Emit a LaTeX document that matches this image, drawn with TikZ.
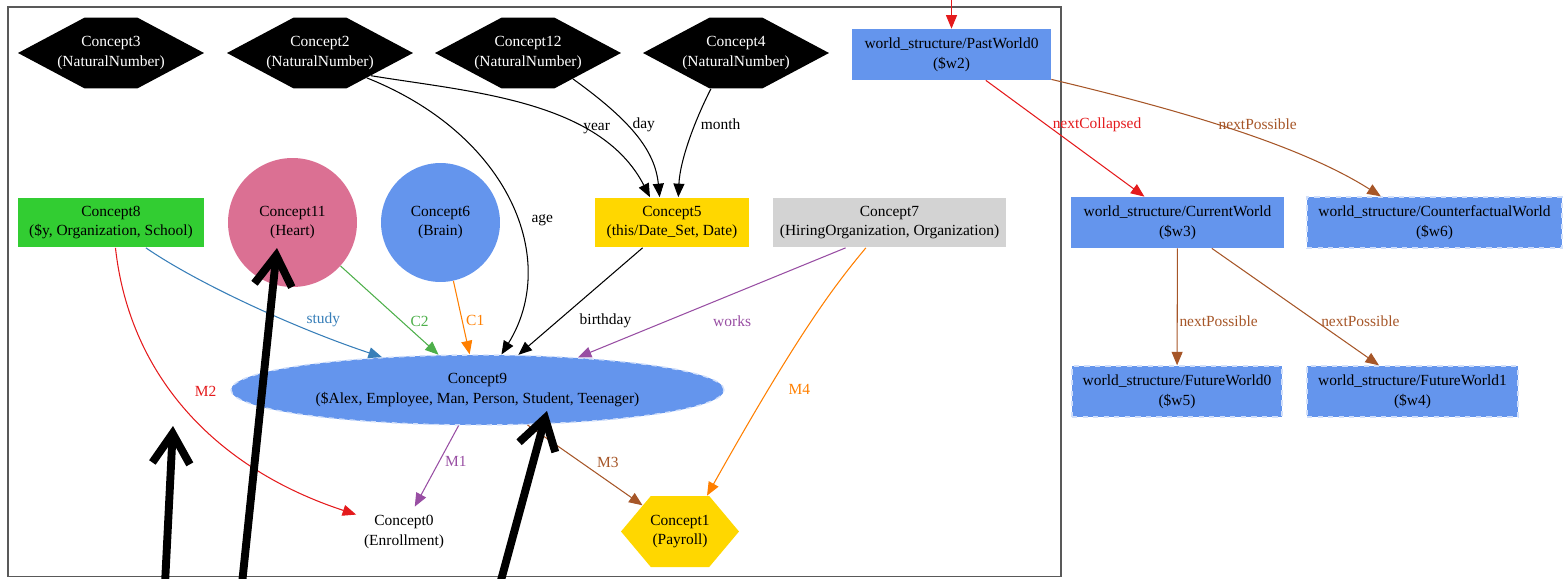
\documentclass[tikz,border=0pt]{standalone}
\usepackage{fontspec}
\setmainfont{Liberation Serif}
\usetikzlibrary{shapes.geometric, shapes.symbols, arrows.meta, positioning}

\definecolor{cornflower}{HTML}{6495ED}
\definecolor{violetred}{HTML}{DB7093}
\definecolor{limegreen}{HTML}{32CD32}
\definecolor{golden}{HTML}{FFD700}
\definecolor{lightgrey}{HTML}{D3D3D3}
\definecolor{setred}{HTML}{E41A1C}
\definecolor{setblue}{HTML}{377EB8}
\definecolor{setgreen}{HTML}{4DAF4A}
\definecolor{setpurple}{HTML}{984EA3}
\definecolor{setorange}{HTML}{FF7F00}
\definecolor{setbrown}{HTML}{A65628}

% hexagon text may run over the slanted sides
\newcommand{\hexlabel}[2]{\makebox[0pt]{#1}\\\makebox[0pt]{#2}}

\begin{document}
\begin{tikzpicture}[
    x=0.02cm, y=-0.02cm,
    every node/.style={font=\fontsize{8.8}{11.3}\selectfont, align=center, inner sep=0pt},
    hexa/.style={signal, signal to=west and east, fill=black, text=white, minimum width=3.72cm, minimum height=1.42cm, signal pointer angle=56},
    box/.style={rectangle, minimum height=1cm},
    world/.style={box, fill=cornflower, minimum height=1.02cm},
    maybe/.style={draw=white!70!cornflower, dashed, line width=0.8pt},
    lbl/.style={inner sep=1pt},
    arrow/.style={-{Triangle[length=2.7mm, width=2.2mm]}, line width=0.6pt},
    pointer/.style={-{Straight Barb[length=6mm, width=7.5mm]}, line width=4.5pt, line cap=round, line join=round}
]
\useasboundingbox (0,0) rectangle (1564,578);

% FRAME
\draw[black!65, line width=0.8pt] (8,7) rectangle (1061,576.5);

% NODES
\node[hexa] (concept3) at (111,53) {\hexlabel{Concept3}{(NaturalNumber)}};
\node[hexa] (concept2) at (320,53) {\hexlabel{Concept2}{(NaturalNumber)}};
\node[hexa] (concept12) at (528,53) {\hexlabel{Concept12}{(NaturalNumber)}};
\node[hexa] (concept4) at (736,53) {\hexlabel{Concept4}{(NaturalNumber)}};
\node[world, minimum width=3.98cm] (past0) at (951.5,54.5) {world\_structure/PastWorld0\\(\$w2)};

\node[box, fill=limegreen, minimum width=3.72cm] (concept8) at (111,222.5) {Concept8\\(\$y, Organization, School)};
\node[circle, fill=violetred, minimum size=2.58cm] (concept11) at (292.5,222.5) {Concept11\\(Heart)};
\node[circle, fill=cornflower, minimum size=2.38cm] (concept6) at (440.5,222.5) {Concept6\\(Brain)};
\node[box, fill=golden, minimum width=3.08cm] (concept5) at (672,222.5) {Concept5\\(this/Date\_Set, Date)};
\node[box, fill=lightgrey, minimum width=4.66cm] (concept7) at (889.5,222.5) {Concept7\\(HiringOrganization, Organization)};
\node[world, minimum width=4.26cm] (current) at (1177.5,222.5) {world\_structure/CurrentWorld\\(\$w3)};
\node[world, maybe, minimum width=5.1cm] (counter) at (1434.5,222.5) {world\_structure/CounterfactualWorld\\(\$w6)};

\node[ellipse, fill=cornflower, maybe, minimum width=9.86cm, minimum height=1.4cm] (concept9) at (477.5,390) {Concept9\\(\$Alex, Employee, Man, Person, Student, Teenager)};
\node[world, maybe, minimum width=4.2cm] (future0) at (1177,391.5) {world\_structure/FutureWorld0\\(\$w5)};
\node[world, maybe, minimum width=4.22cm] (future1) at (1412.5,391.5) {world\_structure/FutureWorld1\\(\$w4)};

\node[minimum width=1.9cm, minimum height=1cm] (concept0) at (404,532) {Concept0\\(Enrollment)};
\node[hexa, fill=golden, text=black, minimum width=2.36cm, signal pointer angle=100] (concept1) at (680,531.5) {\hexlabel{Concept1}{(Payroll)}};

\coordinate (pastin) at (951.5,0);

% ARROWS
\draw[arrow] (concept2.-28) .. controls (510,135) and (560,260) .. (concept9.56) node[lbl, pos=.56, right=7pt] {age};
\draw[arrow] (concept2.-24) .. controls (470,92) and (600,100) .. (concept5.131) node[lbl, pos=.68, right=0pt] {year};
\draw[arrow] (concept12.-30) .. controls (630,120) and (655,150) .. (concept5.116) node[lbl, pos=.4, right=2pt] {day};
\draw[arrow] (concept4.-125) .. controls (695,120) and (680,160) .. (concept5.76) node[lbl, pos=.35, right=2pt] {month};
\draw[arrow] (concept5) -- (concept9) node[lbl, pos=.68, right=11pt] {birthday};
\draw[arrow, setpurple] (concept7.210) -- (concept9.18) node[lbl, pos=.667, right=25pt] {works};
\draw[arrow, setorange] (concept7.-133) .. controls (835,285) and (800,330) .. (concept1.53) node[lbl, pos=.74, right=10pt] {M4};
\draw[arrow, setblue] (concept8.-36) .. controls (200,285) and (300,330) .. (concept9.161) node[lbl, pos=.77, above=4pt] {study};
\draw[arrow, setgreen] (concept11) -- (concept9) node[lbl, pos=.62, right=4pt] {C2};
\draw[arrow, setorange] (concept6) -- (concept9) node[lbl, pos=.54, right=1pt] {C1};
\draw[arrow, setred] (concept8.-80) .. controls (130,380) and (220,470) .. (concept0.160) node[lbl, pos=.42, right=12pt] {M2};
\draw[arrow, setpurple] (concept9.-118) -- (concept0.67) node[lbl, pos=.44, right=2pt] {M1};
\draw[arrow, setbrown] (concept9) -- (concept1) node[lbl, pos=.47, right=7.5pt] {M3};

\draw[arrow, setred] (pastin) -- (past0);
\draw[arrow, setred] (past0.-37) -- (current.142) node[lbl, pos=.38, right=2.5pt] {nextCollapsed};
\draw[arrow, setbrown] (past0.-14) .. controls (1180,110) and (1300,145) .. (counter.154) node[lbl, pos=.5, xshift=13.5pt, yshift=3.5pt] {nextPossible};
\draw[arrow, setbrown] (current) -- (future0) node[lbl, pos=.62, right=0pt] {nextPossible};
\draw[arrow, setbrown] (current.-37) -- (future1.142) node[lbl, pos=.62, right=2pt] {nextPossible};

% POINTERS
\coordinate (tail1) at (165,584);
\coordinate (tip1) at (173,426);
\coordinate (tail2) at (242,584);
\coordinate (tip2) at (277,248);
\coordinate (tail3) at (500,584);
\coordinate (tip3) at (547,411);
\draw[pointer] (tail1) -- (tip1);
\draw[pointer] (tail2) -- (tip2);
\draw[pointer] (tail3) -- (tip3);

\end{tikzpicture}
\end{document}
